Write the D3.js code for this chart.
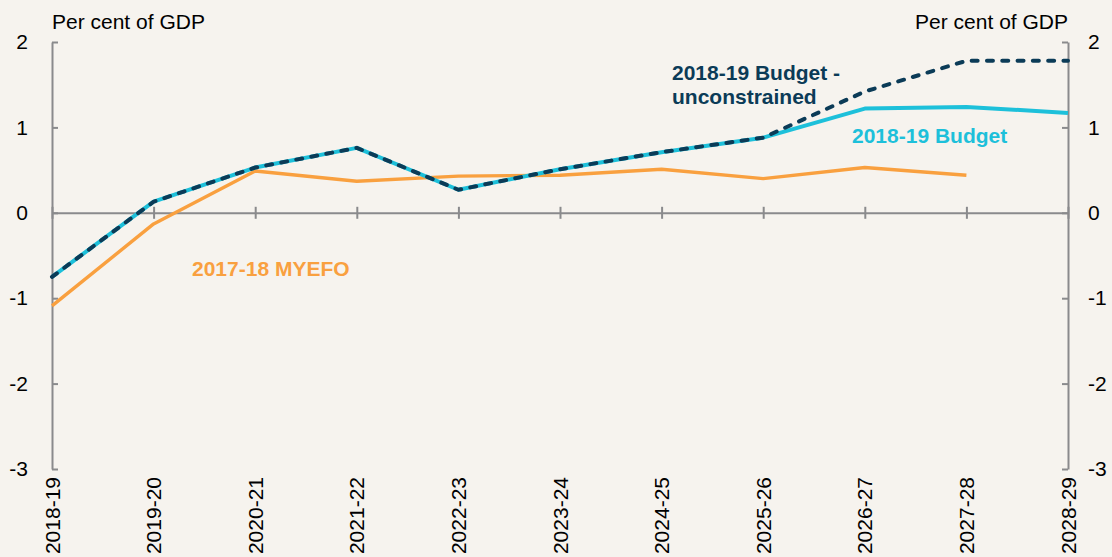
<!DOCTYPE html>
<html><head><meta charset="utf-8">
<script src="https://cdn.jsdelivr.net/npm/d3@7"></script>
<style>
body{margin:0;background:#f6f3ee;}
svg{display:block;font-family:"Liberation Sans",Arial,sans-serif;}
</style></head><body>
<svg id="c" width="1112" height="557"></svg>
<script>
const categories = ["2018-19","2019-20","2020-21","2021-22","2022-23","2023-24","2024-25","2025-26","2026-27","2027-28","2028-29"];
const budget = [-0.75,0.13,0.53,0.76,0.27,0.51,0.71,0.88,1.22,1.24,1.17];
const unconstrained = [-0.75,0.13,0.53,0.76,0.27,0.51,0.71,0.88,1.42,1.78,1.78];
const myefo = [-1.09,-0.13,0.49,0.37,0.43,0.44,0.51,0.40,0.53,0.44,null];
const yTicks = [-3,-2,-1,0,1,2];

const svg = d3.select("#c");
const L = 52, R = 1068, T = 42, B = 469;
const FS = 21;
const x = d3.scalePoint().domain(categories).range([L, R]);
const y = d3.scaleLinear().domain([-3, 2]).range([B, T]);
const axisColor = "#8a8a8c";
const fmt = d => String(d);

svg.append("rect").attr("width",1112).attr("height",557).attr("fill","#f6f3ee");

const la = svg.append("g").attr("transform",`translate(${L},0)`)
  .call(d3.axisLeft(y).tickValues(yTicks).tickSize(-6).tickPadding(24).tickSizeOuter(0).tickFormat(fmt));
const ra = svg.append("g").attr("transform",`translate(${R},0)`)
  .call(d3.axisRight(y).tickValues(yTicks).tickSize(-6).tickPadding(20).tickSizeOuter(0).tickFormat(fmt));
[la, ra].forEach(a => {
  a.attr("font-size", FS).attr("font-family","Liberation Sans, Arial, sans-serif");
  a.select(".domain").attr("stroke", axisColor).attr("stroke-width", 2);
  a.selectAll(".tick line").attr("stroke", axisColor).attr("stroke-width", 2);
  a.selectAll(".tick text").attr("fill", "#000");
});

const xa = svg.append("g").attr("transform",`translate(0,${y(0)})`)
  .call(d3.axisBottom(x).tickSize(6).tickSizeOuter(0).tickFormat(""));
xa.select(".domain").attr("stroke", axisColor).attr("stroke-width", 2);
xa.selectAll(".tick line").attr("y1",-6).attr("y2",6).attr("stroke", axisColor).attr("stroke-width", 2);

svg.append("g").selectAll("text").data(categories).join("text")
  .attr("transform", d => `translate(${x(d)+7.5},477) rotate(-90)`)
  .attr("text-anchor","end")
  .attr("font-size",FS).attr("fill","#000")
  .text(d => d);

svg.append("text").attr("x",L).attr("y",29).attr("font-size",FS).attr("fill","#000").text("Per cent of GDP");
svg.append("text").attr("x",R).attr("y",29).attr("text-anchor","end").attr("font-size",FS).attr("fill","#000").text("Per cent of GDP");

const line = d3.line().defined(d => d.v !== null).x(d => x(d.c)).y(d => y(d.v));
const mk = arr => categories.map((c,i) => ({c, v: arr[i]}));

svg.append("path").datum(mk(myefo)).attr("d", line)
  .attr("fill","none").attr("stroke","#f9a03f").attr("stroke-width",3.4).attr("stroke-linejoin","round");
svg.append("path").datum(mk(budget)).attr("d", line)
  .attr("fill","none").attr("stroke","#1dc0da").attr("stroke-width",4).attr("stroke-linejoin","round");
svg.append("path").datum(mk(unconstrained)).attr("d", line)
  .attr("fill","none").attr("stroke","#0b3b57").attr("stroke-width",4)
  .attr("stroke-dasharray","6,9.3").attr("stroke-linecap","round");

const lab = (tx, xx, yy, col) => svg.append("text").attr("x",xx).attr("y",yy)
  .attr("font-size",FS).attr("font-weight","bold").attr("fill",col).text(tx);
lab("2018-19 Budget -", 672, 80, "#0b3b57");
lab("unconstrained", 672, 104, "#0b3b57");
lab("2018-19 Budget", 852, 143, "#1dc0da");
lab("2017-18 MYEFO", 192, 276, "#f9a03f");
</script>
</body></html>
